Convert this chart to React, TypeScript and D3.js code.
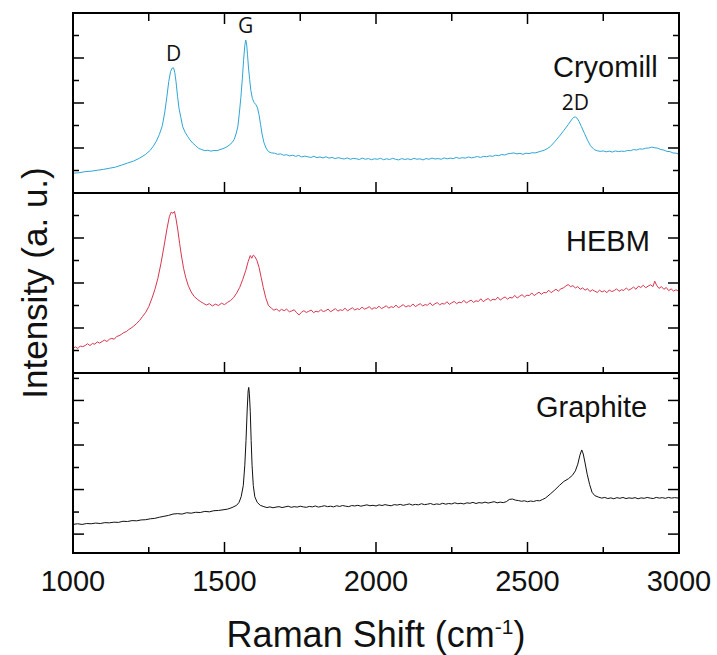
import React from 'react';
import * as d3 from 'd3';

// Raman spectra: [Raman shift (cm^-1), intensity (a.u., offset per panel)]
const cryomill: [number, number][] = [
  [1000, 0.88], [1020, 0.9], [1040, 0.95], [1060, 0.97], [1080, 1.01], [1100, 1.05], [1120, 1.1],
  [1140, 1.15], [1160, 1.24], [1180, 1.33], [1200, 1.42], [1220, 1.55], [1240, 1.72], [1255, 1.9],
  [1265, 2.08], [1275, 2.3], [1285, 2.6], [1295, 3.0], [1303, 3.6], [1310, 4.3], [1316, 4.95],
  [1322, 5.4], [1327, 5.55], [1332, 5.56], [1336, 5.35], [1340, 4.95], [1345, 4.3], [1350, 3.75],
  [1356, 3.35], [1362, 2.95], [1370, 2.7], [1378, 2.52], [1386, 2.36], [1395, 2.22], [1405, 2.1],
  [1415, 1.98], [1425, 1.93], [1435, 1.88], [1445, 1.9], [1455, 1.86], [1465, 1.89], [1475, 1.88],
  [1485, 1.93], [1495, 1.97], [1505, 2.03], [1515, 2.12], [1525, 2.24], [1532, 2.38], [1538, 2.62],
  [1544, 2.95], [1549, 3.55], [1554, 4.25], [1559, 5.1], [1563, 5.9], [1567, 6.55], [1570, 6.8],
  [1573, 6.62], [1576, 6.15], [1579, 5.6], [1583, 5.05], [1587, 4.55], [1592, 4.2], [1598, 4.02],
  [1604, 3.92], [1609, 3.78], [1614, 3.48], [1619, 3.05], [1624, 2.62], [1630, 2.25], [1637, 2.0],
  [1645, 1.84], [1655, 1.78], [1665, 1.77], [1675, 1.72], [1685, 1.74], [1695, 1.68], [1705, 1.7],
  [1715, 1.65], [1725, 1.68], [1735, 1.63], [1745, 1.67], [1755, 1.6], [1765, 1.64], [1775, 1.61],
  [1785, 1.58], [1795, 1.63], [1805, 1.57], [1815, 1.6], [1825, 1.56], [1835, 1.61], [1845, 1.55],
  [1855, 1.58], [1865, 1.53], [1875, 1.57], [1885, 1.54], [1895, 1.51], [1905, 1.56], [1915, 1.5],
  [1925, 1.54], [1935, 1.52], [1945, 1.49], [1955, 1.55], [1965, 1.5], [1975, 1.53], [1985, 1.48],
  [1995, 1.52], [2005, 1.5], [2015, 1.54], [2025, 1.48], [2035, 1.52], [2045, 1.49], [2055, 1.54],
  [2065, 1.5], [2075, 1.47], [2085, 1.53], [2095, 1.49], [2105, 1.52], [2115, 1.48], [2125, 1.54],
  [2135, 1.5], [2145, 1.52], [2155, 1.47], [2165, 1.53], [2175, 1.5], [2185, 1.55], [2195, 1.51],
  [2205, 1.53], [2215, 1.5], [2225, 1.56], [2235, 1.52], [2245, 1.55], [2255, 1.53], [2265, 1.58],
  [2275, 1.54], [2285, 1.57], [2295, 1.55], [2305, 1.6], [2315, 1.56], [2325, 1.59], [2335, 1.62],
  [2345, 1.58], [2355, 1.63], [2365, 1.61], [2375, 1.65], [2385, 1.63], [2395, 1.68], [2405, 1.66],
  [2415, 1.71], [2425, 1.69], [2435, 1.74], [2445, 1.76], [2455, 1.78], [2465, 1.74], [2475, 1.76],
  [2485, 1.72], [2495, 1.77], [2505, 1.75], [2515, 1.79], [2525, 1.78], [2535, 1.82], [2545, 1.86],
  [2555, 1.9], [2565, 1.97], [2575, 2.06], [2590, 2.28], [2605, 2.52], [2620, 2.78], [2635, 3.05],
  [2645, 3.25], [2652, 3.36], [2658, 3.38], [2664, 3.32], [2670, 3.18], [2678, 2.95], [2688, 2.65],
  [2698, 2.35], [2708, 2.1], [2720, 1.93], [2730, 1.88], [2740, 1.85], [2750, 1.87], [2760, 1.83],
  [2770, 1.86], [2780, 1.82], [2790, 1.87], [2800, 1.84], [2810, 1.86], [2820, 1.85], [2830, 1.89],
  [2840, 1.88], [2850, 1.93], [2860, 1.91], [2870, 1.96], [2880, 1.95], [2890, 1.99], [2900, 2.0],
  [2910, 2.04], [2920, 2.01], [2930, 1.99], [2940, 1.93], [2950, 1.91], [2960, 1.85], [2970, 1.84],
  [2980, 1.78], [2990, 1.77], [3000, 1.73],
];

const hebm: [number, number][] = [
  [1000, 1.1], [1008, 1.16], [1016, 1.09], [1024, 1.2], [1032, 1.17], [1040, 1.22], [1048, 1.3],
  [1056, 1.22], [1064, 1.31], [1072, 1.28], [1080, 1.38], [1088, 1.33], [1096, 1.4], [1104, 1.46],
  [1112, 1.4], [1120, 1.5], [1128, 1.54], [1136, 1.5], [1144, 1.62], [1152, 1.66], [1160, 1.72],
  [1168, 1.8], [1176, 1.84], [1184, 1.93], [1192, 2.0], [1200, 2.08], [1210, 2.2], [1220, 2.34],
  [1230, 2.52], [1240, 2.7], [1250, 2.95], [1260, 3.3], [1270, 3.7], [1280, 4.2], [1290, 4.85],
  [1300, 5.6], [1310, 6.4], [1318, 6.95], [1324, 7.15], [1330, 7.1], [1335, 7.18], [1340, 6.85],
  [1346, 6.35], [1352, 5.75], [1358, 5.2], [1365, 4.65], [1372, 4.25], [1380, 3.9], [1390, 3.6],
  [1400, 3.4], [1410, 3.28], [1420, 3.18], [1430, 3.1], [1440, 3.02], [1450, 3.08], [1460, 2.98],
  [1470, 3.06], [1480, 3.0], [1490, 3.1], [1500, 3.04], [1510, 3.14], [1520, 3.22], [1530, 3.35],
  [1540, 3.55], [1550, 3.8], [1560, 4.15], [1570, 4.55], [1578, 4.95], [1585, 5.22], [1590, 5.1],
  [1595, 5.24], [1600, 5.18], [1607, 5.0], [1614, 4.7], [1621, 4.25], [1628, 3.8], [1636, 3.35],
  [1645, 3.0], [1655, 2.88], [1663, 2.79], [1672, 2.85], [1680, 2.74], [1688, 2.83], [1697, 2.77],
  [1705, 2.84], [1714, 2.72], [1722, 2.76], [1730, 2.81], [1738, 2.68], [1746, 2.58], [1754, 2.7],
  [1762, 2.77], [1770, 2.69], [1778, 2.74], [1786, 2.8], [1794, 2.68], [1802, 2.75], [1810, 2.71],
  [1818, 2.82], [1826, 2.73], [1834, 2.77], [1842, 2.84], [1850, 2.72], [1858, 2.79], [1866, 2.86],
  [1874, 2.75], [1882, 2.81], [1890, 2.78], [1898, 2.88], [1906, 2.76], [1914, 2.83], [1922, 2.9],
  [1930, 2.8], [1938, 2.86], [1946, 2.82], [1954, 2.93], [1962, 2.84], [1970, 2.88], [1978, 2.95],
  [1986, 2.83], [1994, 2.9], [2002, 2.87], [2010, 2.97], [2018, 2.86], [2026, 2.92], [2034, 2.99],
  [2042, 2.88], [2050, 2.95], [2058, 2.91], [2066, 3.02], [2074, 2.9], [2082, 2.97], [2090, 3.04],
  [2098, 2.93], [2106, 2.99], [2114, 2.96], [2122, 3.07], [2130, 2.95], [2138, 3.02], [2146, 3.08],
  [2154, 2.98], [2162, 3.04], [2170, 3.01], [2178, 3.12], [2186, 3.0], [2194, 3.07], [2202, 3.13],
  [2210, 3.03], [2218, 3.09], [2226, 3.06], [2234, 3.17], [2242, 3.05], [2250, 3.12], [2258, 3.18],
  [2266, 3.08], [2274, 3.15], [2282, 3.12], [2290, 3.23], [2298, 3.11], [2306, 3.18], [2314, 3.24],
  [2322, 3.14], [2330, 3.21], [2338, 3.18], [2346, 3.3], [2354, 3.17], [2362, 3.25], [2370, 3.31],
  [2378, 3.21], [2386, 3.28], [2394, 3.25], [2402, 3.37], [2410, 3.24], [2418, 3.32], [2426, 3.38],
  [2434, 3.28], [2442, 3.36], [2450, 3.33], [2458, 3.45], [2466, 3.33], [2474, 3.41], [2482, 3.48],
  [2490, 3.38], [2498, 3.46], [2506, 3.44], [2514, 3.56], [2522, 3.44], [2530, 3.52], [2538, 3.59],
  [2546, 3.5], [2554, 3.58], [2562, 3.56], [2570, 3.68], [2578, 3.57], [2586, 3.65], [2594, 3.72],
  [2602, 3.64], [2610, 3.74], [2618, 3.78], [2626, 3.86], [2634, 3.93], [2642, 3.84], [2650, 3.88],
  [2658, 3.78], [2666, 3.84], [2674, 3.72], [2682, 3.78], [2690, 3.68], [2698, 3.75], [2706, 3.62],
  [2714, 3.7], [2722, 3.64], [2730, 3.58], [2738, 3.68], [2746, 3.6], [2754, 3.66], [2762, 3.57],
  [2770, 3.69], [2778, 3.62], [2786, 3.66], [2794, 3.74], [2802, 3.63], [2810, 3.7], [2818, 3.67],
  [2826, 3.78], [2834, 3.68], [2842, 3.74], [2850, 3.82], [2858, 3.72], [2866, 3.86], [2874, 3.8],
  [2882, 3.9], [2890, 3.79], [2898, 3.86], [2906, 3.92], [2914, 3.84], [2920, 4.08], [2926, 3.9],
  [2934, 3.76], [2942, 3.84], [2950, 3.72], [2958, 3.8], [2966, 3.66], [2974, 3.74], [2982, 3.64],
  [2990, 3.7], [3000, 3.62],
];

const graphite: [number, number][] = [
  [1000, 1.27], [1015, 1.3], [1030, 1.27], [1045, 1.31], [1060, 1.3], [1075, 1.33], [1090, 1.31],
  [1105, 1.35], [1120, 1.34], [1135, 1.37], [1150, 1.36], [1165, 1.41], [1180, 1.4], [1195, 1.44],
  [1210, 1.43], [1225, 1.47], [1240, 1.48], [1255, 1.52], [1270, 1.54], [1285, 1.59], [1300, 1.63],
  [1315, 1.67], [1330, 1.73], [1345, 1.75], [1360, 1.73], [1375, 1.79], [1390, 1.77], [1405, 1.81],
  [1420, 1.8], [1435, 1.85], [1450, 1.83], [1465, 1.88], [1480, 1.89], [1495, 1.92], [1510, 1.95],
  [1525, 2.02], [1540, 2.12], [1548, 2.25], [1555, 2.5], [1562, 3.0], [1567, 3.9], [1571, 5.0],
  [1575, 6.4], [1578, 7.2], [1580, 7.36], [1582, 7.1], [1585, 6.3], [1588, 5.0], [1591, 3.9],
  [1595, 3.0], [1600, 2.5], [1608, 2.25], [1618, 2.12], [1630, 2.06], [1640, 2.02], [1650, 2.05],
  [1660, 2.01], [1670, 2.04], [1680, 2.06], [1690, 2.02], [1700, 2.05], [1710, 2.08], [1720, 2.03],
  [1730, 2.06], [1740, 2.04], [1750, 2.08], [1760, 2.05], [1770, 2.03], [1780, 2.07], [1790, 2.05],
  [1800, 2.09], [1810, 2.04], [1820, 2.07], [1830, 2.1], [1840, 2.06], [1850, 2.08], [1860, 2.05],
  [1870, 2.1], [1880, 2.07], [1890, 2.11], [1900, 2.08], [1910, 2.06], [1920, 2.11], [1930, 2.09],
  [1940, 2.12], [1950, 2.08], [1960, 2.11], [1970, 2.14], [1980, 2.1], [1990, 2.12], [2000, 2.09],
  [2010, 2.14], [2020, 2.11], [2030, 2.15], [2040, 2.12], [2050, 2.1], [2060, 2.15], [2070, 2.13],
  [2080, 2.16], [2090, 2.12], [2100, 2.15], [2110, 2.18], [2120, 2.13], [2130, 2.16], [2140, 2.14],
  [2150, 2.19], [2160, 2.15], [2170, 2.17], [2180, 2.2], [2190, 2.15], [2200, 2.18], [2210, 2.16],
  [2220, 2.21], [2230, 2.17], [2240, 2.2], [2250, 2.18], [2260, 2.23], [2270, 2.19], [2280, 2.21],
  [2290, 2.18], [2300, 2.23], [2310, 2.21], [2320, 2.25], [2330, 2.2], [2340, 2.24], [2350, 2.22],
  [2360, 2.26], [2370, 2.22], [2380, 2.25], [2390, 2.28], [2400, 2.23], [2410, 2.26], [2420, 2.24],
  [2430, 2.28], [2440, 2.38], [2450, 2.4], [2460, 2.35], [2470, 2.33], [2480, 2.3], [2490, 2.32],
  [2500, 2.28], [2510, 2.31], [2520, 2.29], [2530, 2.33], [2540, 2.32], [2550, 2.38], [2560, 2.45],
  [2575, 2.62], [2590, 2.8], [2605, 3.0], [2620, 3.18], [2635, 3.3], [2648, 3.45], [2658, 3.65],
  [2666, 3.95], [2673, 4.35], [2679, 4.58], [2684, 4.4], [2690, 4.0], [2697, 3.5], [2705, 3.05],
  [2713, 2.7], [2722, 2.55], [2735, 2.48], [2745, 2.44], [2755, 2.47], [2765, 2.42], [2775, 2.45],
  [2785, 2.41], [2795, 2.46], [2805, 2.43], [2815, 2.47], [2825, 2.42], [2835, 2.45], [2845, 2.43],
  [2855, 2.46], [2865, 2.41], [2875, 2.45], [2885, 2.43], [2895, 2.47], [2905, 2.44], [2915, 2.42],
  [2925, 2.47], [2935, 2.44], [2945, 2.46], [2955, 2.43], [2965, 2.47], [2975, 2.44], [2985, 2.46],
  [3000, 2.44],
];

const xMajorTicks = [1000, 1500, 2000, 2500, 3000];
const xMinorTicks = [1250, 1750, 2250, 2750];
const sampleNames = ['Cryomill', 'HEBM', 'Graphite'];
const sampleColors = ['#2ea6d6', '#d9364f', '#111111'];
const yMajorTicks = [[2, 4, 6], [2, 4, 6], [0.84, 2.82, 4.8, 6.78]];
const yMinorTicks = [[1, 3, 5, 7], [1, 3, 5, 7], [1.82, 3.8, 5.78, 7.76]];
const peakLabels: { name: string; shift: number; value: number }[] = [
  { name: 'D', shift: 1332, value: 5.56 },
  { name: 'G', shift: 1570, value: 6.8 },
  { name: '2D', shift: 2658, value: 3.38 },
];

const W = 717;
const H = 655;
const left = 73;
const right = 679;
const top = 13;
const panelH = 180;
const labelPos = [
  { x: 553, y: 77 },
  { x: 566, y: 251 },
  { x: 536, y: 417 },
];

export default function App() {
  const series = [cryomill, hebm, graphite];
  const x = d3.scaleLinear().domain([1000, 3000]).range([left, right]);
  const panels = series.map((_, i) => {
    const y0 = top + i * panelH;
    return d3.scaleLinear().domain([0, 8]).range([y0 + panelH, y0]);
  });
  const majorLen = 11;
  const minorLen = 6;
  const axisFont = 'Liberation Sans, Arial, sans-serif';
  const bottom = top + 3 * panelH;

  return (
    <svg width={W} height={H} style={{ position: 'absolute', left: 0, top: 0, background: '#fff' }}>
      {series.map((data, i) => {
        const y = panels[i];
        const y0 = top + i * panelH;
        const y1 = y0 + panelH;
        const line = d3
          .line<[number, number]>()
          .x((d) => x(d[0]))
          .y((d) => y(d[1]));
        return (
          <g key={sampleNames[i]}>
            <path d={line(data) ?? ''} fill="none" stroke={sampleColors[i]} strokeWidth={1} strokeLinejoin="round" />
            {/* y ticks, both sides, pointing inward */}
            {yMajorTicks[i].map((t) => (
              <g key={'M' + t}>
                <line x1={left} x2={left + majorLen} y1={y(t)} y2={y(t)} stroke="#000" strokeWidth={1.5} />
                <line x1={right} x2={right - majorLen} y1={y(t)} y2={y(t)} stroke="#000" strokeWidth={1.5} />
              </g>
            ))}
            {yMinorTicks[i].map((t) => (
              <g key={'m' + t}>
                <line x1={left} x2={left + minorLen} y1={y(t)} y2={y(t)} stroke="#000" strokeWidth={1.5} />
                <line x1={right} x2={right - minorLen} y1={y(t)} y2={y(t)} stroke="#000" strokeWidth={1.5} />
              </g>
            ))}
            {/* x ticks on the panel's lower edge */}
            {xMajorTicks.map((t) => (
              <line key={'xb' + t} x1={x(t)} x2={x(t)} y1={y1} y2={y1 - majorLen} stroke="#000" strokeWidth={1.5} />
            ))}
            {xMinorTicks.map((t) => (
              <line key={'xbm' + t} x1={x(t)} x2={x(t)} y1={y1} y2={y1 - minorLen} stroke="#000" strokeWidth={1.5} />
            ))}
            {i === 0 &&
              xMajorTicks.map((t) => (
                <line key={'xt' + t} x1={x(t)} x2={x(t)} y1={y0} y2={y0 + majorLen} stroke="#000" strokeWidth={1.5} />
              ))}
            {i === 0 &&
              xMinorTicks.map((t) => (
                <line key={'xtm' + t} x1={x(t)} x2={x(t)} y1={y0} y2={y0 + minorLen + 2} stroke="#000" strokeWidth={1.5} />
              ))}
            <rect x={left} y={y0} width={right - left} height={panelH} fill="none" stroke="#000" strokeWidth={2} />
            <text x={labelPos[i].x} y={labelPos[i].y} fontFamily={axisFont} fontSize={29} fill="#111">
              {sampleNames[i]}
            </text>
          </g>
        );
      })}

      {peakLabels.map((p) => (
        <text
          key={p.name}
          x={x(p.shift)}
          y={panels[0](p.value) - 7}
          textAnchor="middle"
          fontFamily="Open Sans, sans-serif"
          fontSize={21}
          fill="#111"
        >
          {p.name}
        </text>
      ))}

      {xMajorTicks.map((t) => (
        <text key={'l' + t} x={x(t)} y={591} textAnchor="middle" fontFamily={axisFont} fontSize={29} fill="#111">
          {t}
        </text>
      ))}

      <text x={(left + right) / 2} y={647} textAnchor="middle" fontFamily={axisFont} fontSize={36} fill="#111">
        Raman Shift (cm
        <tspan dy={-13} fontSize={21}>-1</tspan>
        <tspan dy={13}>)</tspan>
      </text>

      <text
        transform={`translate(47, ${(top + bottom) / 2}) rotate(-90)`}
        textAnchor="middle"
        fontFamily={axisFont}
        fontSize={35}
        fill="#111"
      >
        Intensity (a. u.)
      </text>
    </svg>
  );
}
